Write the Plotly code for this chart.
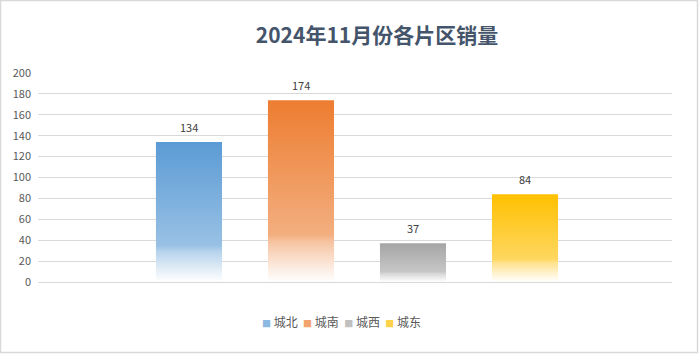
import plotly.graph_objects as go

categories = ["城北", "城南", "城西", "城东"]
values = [134, 174, 37, 84]
colors_top = ["#5B9BD5", "#ED7D31", "#A5A5A5", "#FFC000"]
title_text = "2024年11月份各片区销量"
y_ticks = [0, 20, 40, 60, 80, 100, 120, 140, 160, 180, 200]

W, H = 699, 354
ML, MR, MT, MB = 38, 27, 73, 72
FONT = "Noto Sans CJK SC"


def hex2rgb(h):
    h = h.lstrip("#")
    return tuple(int(h[i:i + 2], 16) for i in (0, 2, 4))


def tint(h, f):
    r, g, b = hex2rgb(h)
    return "rgb(%d,%d,%d)" % (r + (255 - r) * f, g + (255 - g) * f, b + (255 - b) * f)


fig = go.Figure()
half = 0.295
annotations = []
for i, (cat, v, c) in enumerate(zip(categories, values, colors_top)):
    xs = [i - half, i + half, i + half, i - half, i - half]
    ys = [0, 0, v, v, 0]
    fig.add_trace(go.Scatter(
        x=xs, y=ys, mode="none", fill="toself", name=cat,
        fillgradient=dict(
            type="vertical",
            colorscale=[[0, "rgb(255,255,255)"], [0.08, tint(c, 0.85)],
                        [0.22, tint(c, 0.55)], [0.26, tint(c, 0.38)],
                        [1, c]],
        ),
        showlegend=False, hoverinfo="skip",
    ))
    annotations.append(dict(
        x=i, y=v, xref="x", yref="y", text=str(v), showarrow=False,
        yshift=15, yanchor="middle",
        font=dict(family=FONT, size=11, color="#404040"),
    ))

pw = W - ML - MR
ph = H - MT - MB

# legend built from categories/colours as one compact text line
legend_parts = []
for cat, c in zip(categories, colors_top):
    legend_parts.append(
        '<span style="font-size:9px;fill:%s">■</span> %s' % (tint(c, 0.3), cat))
annotations.append(dict(
    x=(341 - ML) / pw, y=-(321 - 282) / ph, xref="paper", yref="paper",
    text="  ".join(legend_parts), showarrow=False, xanchor="center",
    yanchor="middle", font=dict(family=FONT, size=12, color="#595959"),
))

fig.add_shape(type="rect", xref="paper", yref="paper",
              x0=-(ML - 0.5) / pw, x1=1 + (MR - 1.5) / pw,
              y0=-(MB - 1.5) / ph, y1=1 + (MT - 0.5) / ph,
              line=dict(color="#D9D9D9", width=1.5), layer="below")

fig.update_layout(
    width=W, height=H,
    margin=dict(l=ML, r=MR, t=MT, b=MB),
    paper_bgcolor="white", plot_bgcolor="white",
    font=dict(family=FONT, color="#595959"),
    title=dict(text="<b>" + title_text + "</b>", x=377 / W, xanchor="center",
               y=1 - 36 / H, yanchor="middle",
               font=dict(family=FONT, size=21, color="#44546A")),
    xaxis=dict(range=[-1.348, 4.3125], showticklabels=False, showgrid=False,
               zeroline=False, showline=False, fixedrange=True),
    yaxis=dict(range=[0, 200], tickvals=y_ticks, showgrid=True,
               gridcolor="#D9D9D9", gridwidth=1, zeroline=True,
               zerolinecolor="#D9D9D9", zerolinewidth=1,
               tickfont=dict(family=FONT, size=11, color="#595959"),
               ticks="", ticklabelstandoff=6),
    annotations=annotations,
    showlegend=False,
)

fig.write_html("out.html")
